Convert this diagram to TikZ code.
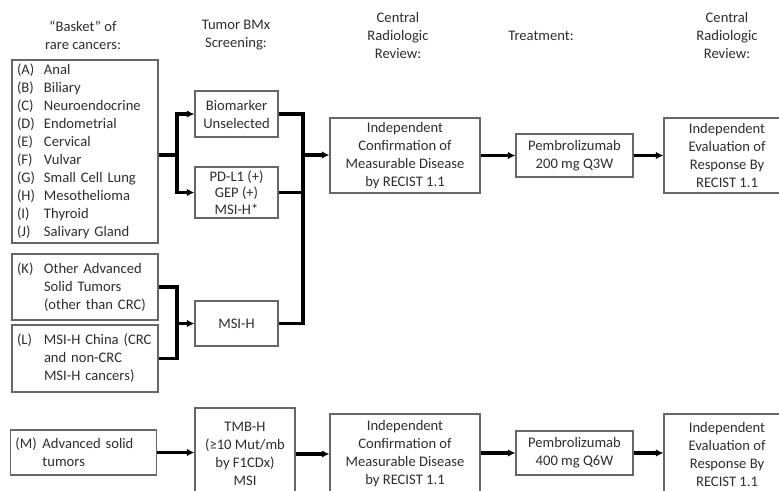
\documentclass[tikz,border=0pt]{standalone}
\usepackage{fontspec}
\setmainfont{Carlito}
\usetikzlibrary{arrows.meta,positioning}
\newcommand{\lbl}[1]{\makebox[27pt][l]{#1}}

\begin{document}
\begin{tikzpicture}[x=1pt,y=-1pt,>={Latex[length=7.5pt,width=7.5pt]},
  every node/.style={font=\fontsize{14.6}{18}\selectfont,text=black!82},
  box/.style={draw=black!60,line width=1.2pt,align=center,inner sep=0pt},
  listbox/.style={box,align=left,text width=136pt,minimum width=146pt,inner xsep=5pt},
  head/.style={align=center},
  conn/.style={line width=3.2pt,line join=miter}]
  \useasboundingbox (0,0) rectangle (779,490);
  \fill[white] (0,0) rectangle (779,490);
  \clip (0,0) rectangle (779,490);
  % column headers
  \node[head] (hbasket) at (83,35) {“Basket” of\\rare cancers:};
  \node[head] (hscreen) at (236,35) {Tumor BMx\\Screening:};
  \node[head] (hreview) at (398,35) {Central\\Radiologic\\Review:};
  \node[head] (htreat) at (541,36) {Treatment:};
  \node[head] (hresp) at (727,35) {Central\\Radiologic\\Review:};
  % cancer groups
  \node[listbox,minimum height=183pt] (basket) at (85,151.5) {\lbl{(A)}Anal\\\lbl{(B)}Biliary\\\lbl{(C)}Neuroendocrine\\\lbl{(D)}Endometrial\\\lbl{(E)}Cervical\\\lbl{(F)}Vulvar\\\lbl{(G)}Small Cell Lung\\\lbl{(H)}Mesothelioma\\\lbl{(I)}Thyroid\\\lbl{(J)}Salivary Gland};
  \node[listbox,minimum height=66pt] (other) at (85,287) {\lbl{(K)}Other Advanced\\\lbl{}Solid Tumors\\\lbl{}(other than CRC)};
  \node[listbox,minimum height=67pt] (china) at (85,358.5) {\lbl{(L)}MSI-H China (CRC\\\lbl{}and non-CRC\\\lbl{}MSI-H cancers)};
  \node[listbox,minimum height=45pt] (solid) at (83.5,452.5) {\lbl{(M)}Advanced solid\\\lbl{}tumors};
  % screening
  \node[box,minimum width=83pt,minimum height=46pt] (unsel) at (236.5,114) {Biomarker\\Unselected};
  \node[box,minimum width=83pt,minimum height=51pt,font=\fontsize{14.6}{16.5}\selectfont] (pdl) at (236.5,192.5) {PD-L1 (+)\\GEP (+)\\MSI-H*};
  \node[box,minimum width=83pt,minimum height=45pt] (msi) at (236.5,323.5) {MSI-H};
  \node[box,minimum width=100pt,minimum height=92pt] (tmb) at (245,454) {TMB-H\\(≥10 Mut/mb\\by F1CDx)\\MSI};
  % review and treatment
  \node[box,minimum width=150pt,minimum height=75pt] (conf1) at (405,155.5) {Independent\\Confirmation of\\Measurable Disease\\by RECIST 1.1};
  \node[box,minimum width=117pt,minimum height=43pt] (pem1) at (574.5,155.5) {Pembrolizumab\\200 mg Q3W};
  \node[box,minimum width=126pt,minimum height=75pt] (eval1) at (727,155.5) {Independent\\Evaluation of\\Response By\\RECIST 1.1};
  \node[box,minimum width=150pt,minimum height=80pt] (conf2) at (405,454) {Independent\\Confirmation of\\Measurable Disease\\by RECIST 1.1};
  \node[box,minimum width=117pt,minimum height=44pt] (pem2) at (574.5,453) {Pembrolizumab\\400 mg Q6W};
  \node[box,minimum width=126pt,minimum height=80pt] (eval2) at (727,454) {Independent\\Evaluation of\\Response By\\RECIST 1.1};
  % junctions
  \coordinate (jl) at (177,155);
  \coordinate (jm) at (177,323.5);
  \coordinate (jr) at (303,155);
  \draw[conn] (jl -| basket.east) -- (jl);
  \draw[conn,<->] (unsel.west) -| (jl) |- (pdl.west);
  \draw[conn] (other.east) -| (jm) |- (china.east);
  \draw[conn,->] (jm) -- (msi.west);
  \draw[conn] (unsel.east) -| (jr) |- (msi.east);
  \draw[conn] (pdl.east) -- (pdl.east -| jr);
  \draw[conn,->] (jr) -- (jr -| conf1.west);
  \draw[conn,->] (conf1) -- (pem1);
  \draw[conn,->] (pem1) -- (eval1);
  \draw[conn,->] (solid.east) -- (solid.east -| tmb.west);
  \draw[conn,->] (tmb) -- (conf2);
  \draw[conn,->] (pem2.west -| conf2.east) -- (pem2.west);
  \draw[conn,->] (pem2.east) -- (pem2.east -| eval2.west);
\end{tikzpicture}
\end{document}
